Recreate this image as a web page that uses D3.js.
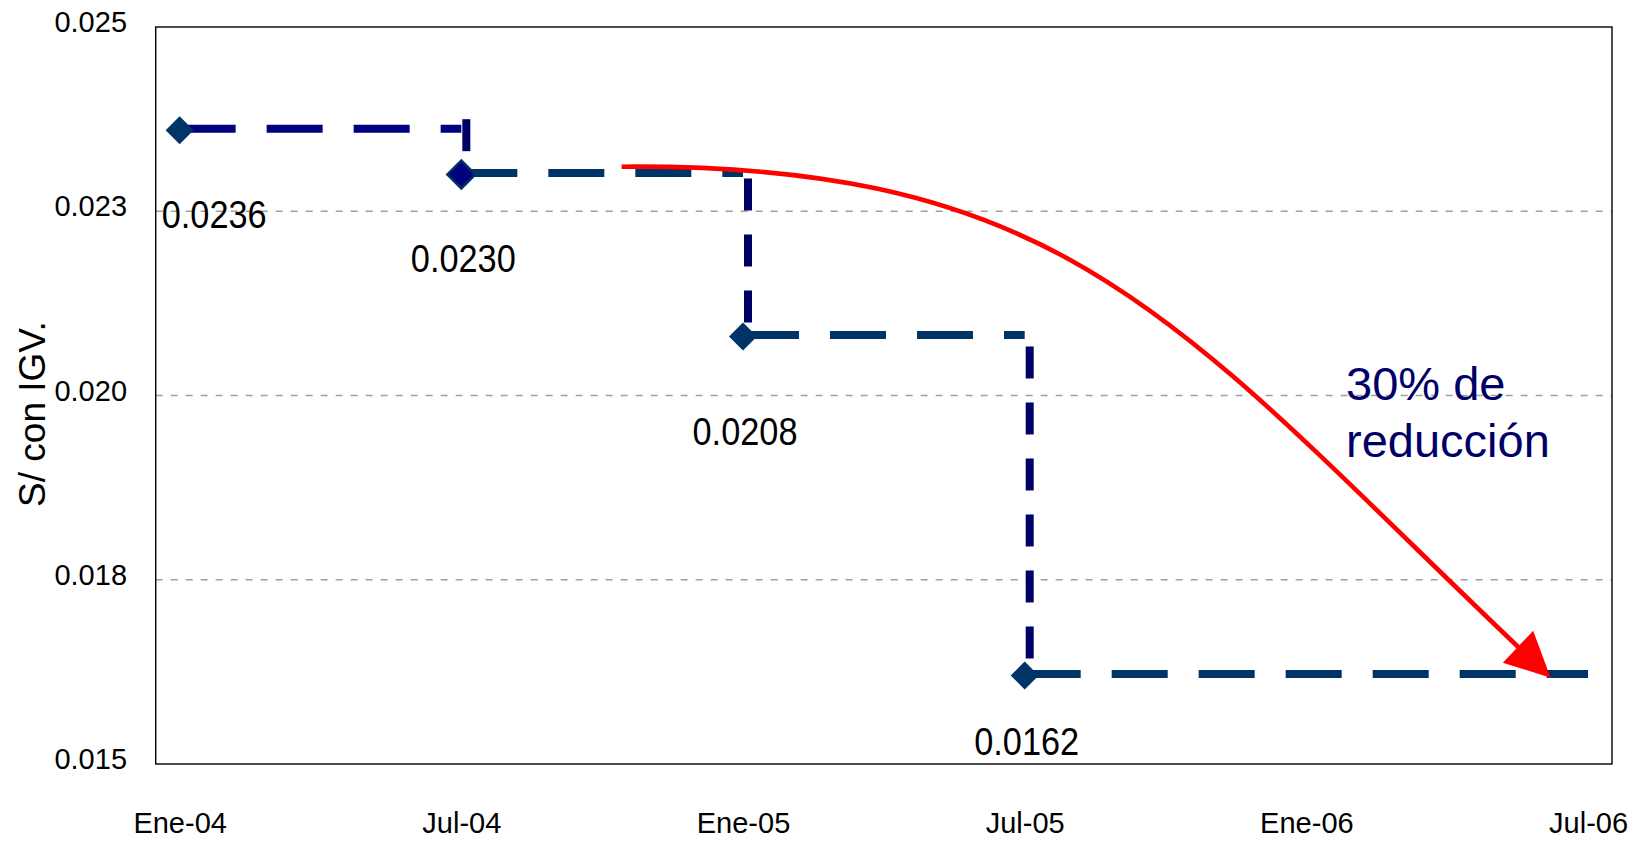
<!DOCTYPE html>
<html>
<head>
<meta charset="utf-8">
<script src="https://cdn.jsdelivr.net/npm/d3@7"></script>
<style>
  html, body { margin: 0; padding: 0; background: #fff; }
  svg { display: block; }
</style>
</head>
<body>
<svg id="chart" width="1643" height="841"></svg>
<script>
// ---------------- data ----------------
const categories = ["Ene-04", "Jul-04", "Ene-05", "Jul-05", "Ene-06", "Jul-06"];
const tariffDates = ["Ene-04", "Jul-04", "Ene-05", "Jul-05"];
const tariffValues = [0.0236, 0.0230, 0.0208, 0.0162];
const tariffLabels = ["0.0236", "0.0230", "0.0208", "0.0162"];
const seriesEnd = "Jul-06";
const yTicks = [0.015, 0.0175, 0.020, 0.0225, 0.025];
const yTickLabels = ["0.015", "0.018", "0.020", "0.023", "0.025"];
const gridValues = [0.0175, 0.020, 0.0225];
const yTitle = "S/ con IGV.";
const noteLines = ["30% de", "reducción"];
// red trend arrow (Bezier): [position in category steps from Ene-04, value]
const arrowStart = [1.569, 0.023104];
const arrowCtrl1 = [3.168, 0.023155];
const arrowCtrl2 = [3.551, 0.020957];
const arrowTip = [4.867, 0.01617];

// ---------------- layout ----------------
const plot = { left: 155.7, right: 1612, top: 27, bottom: 764 };
const svg = d3.select("#chart");
const FONT = "'Liberation Sans', Arial, sans-serif";

const x = d3.scalePoint().domain(categories).range([plot.left, plot.right]).padding(0.085);
const y = d3.scaleLinear().domain([0.015, 0.025]).range([plot.bottom, plot.top]);
const xi = v => x(categories[0]) + v * x.step();
const P = p => [xi(p[0]), y(p[1])];

// gridlines
svg.append("g").selectAll("line").data(gridValues).join("line")
  .attr("x1", plot.left).attr("x2", plot.right)
  .attr("y1", d => y(d)).attr("y2", d => y(d))
  .attr("stroke", "#a0a0a0").attr("stroke-width", 1.3)
  .attr("stroke-dasharray", "7,8");

// plot border
svg.append("rect")
  .attr("x", plot.left).attr("y", plot.top)
  .attr("width", plot.right - plot.left).attr("height", plot.bottom - plot.top)
  .attr("fill", "none").attr("stroke", "#000").attr("stroke-width", 1.4);

// y axis
const yAxis = svg.append("g").attr("transform", `translate(${plot.left},0)`)
  .call(d3.axisLeft(y).tickValues(yTicks).tickFormat((d, i) => yTickLabels[i]).tickSize(0).tickPadding(28.7));
yAxis.select(".domain").remove();
yAxis.selectAll("text").attr("font-family", FONT).attr("font-size", 29).attr("fill", "#000").attr("dy", "0.16em");

// x axis
const xAxis = svg.append("g").attr("transform", `translate(0,${plot.bottom})`)
  .call(d3.axisBottom(x).tickSize(0));
xAxis.select(".domain").remove();
xAxis.selectAll("text").attr("font-family", FONT).attr("font-size", 29).attr("fill", "#000")
  .attr("y", 69).attr("dy", 0);

// y title
svg.append("text")
  .attr("transform", `translate(45,414) rotate(-90)`)
  .attr("text-anchor", "middle")
  .attr("font-family", FONT).attr("font-size", 37).attr("fill", "#000")
  .text(yTitle);

// horizontal step segments
const hSegs = tariffDates.map((d, i) => ({
  x1: x(d), x2: x(i < tariffDates.length - 1 ? tariffDates[i + 1] : seriesEnd),
  v: tariffValues[i], i
}));
svg.append("g").selectAll("line").data(hSegs).join("line")
  .attr("x1", d => d.x1).attr("x2", d => d.x2)
  .attr("y1", d => y(d.v) - 1.5).attr("y2", d => y(d.v) - 1.5)
  .attr("stroke", d => d.i === 0 ? "#000080" : "#003366")
  .attr("stroke-width", 8).attr("stroke-dasharray", "56,31");

// vertical drops
const vStart = [-11, 4, 10];
const vSegs = tariffDates.slice(1).map((d, k) => ({
  x: x(d) + 5, y1: y(tariffValues[k]) + vStart[k], y2: y(tariffValues[k + 1])
}));
svg.append("g").selectAll("line").data(vSegs).join("line")
  .attr("x1", d => d.x).attr("x2", d => d.x)
  .attr("y1", d => d.y1).attr("y2", d => d.y2)
  .attr("stroke", "#000066").attr("stroke-width", 8).attr("stroke-dasharray", "32,24");

// diamonds
svg.append("g").selectAll("path").data(tariffValues).join("path")
  .attr("d", d3.symbol().type(d3.symbolSquare).size(392))
  .attr("transform", (d, i) => `translate(${x(tariffDates[i])},${y(d)}) rotate(45)`)
  .attr("fill", (d, i) => i === 1 ? "#000080" : "#003366")
  .attr("stroke", "#003366").attr("stroke-width", (d, i) => i === 1 ? 2.5 : 0);

// data labels
const labelNudge = [0, 0, 10, 0];
const labelWidth = 105;
svg.append("g").selectAll("text").data(tariffValues).join("text")
  .attr("font-family", FONT).attr("font-size", 39).attr("fill", "#000")
  .attr("textLength", labelWidth).attr("lengthAdjust", "spacingAndGlyphs")
  .attr("x", (d, i) => Math.max(x(tariffDates[i]) + 2 - labelWidth / 2, plot.left + 6))
  .attr("y", (d, i) => Math.min(y(d) + 98 + labelNudge[i], plot.bottom - 9))
  .text((d, i) => tariffLabels[i]);

// red arrow
const p0 = P(arrowStart), c1 = P(arrowCtrl1), c2 = P(arrowCtrl2), tip = P(arrowTip);
const ang = Math.atan2(tip[1] - c2[1], tip[0] - c2[0]);
const headLen = 45, headHalf = 22;
const baseMid = [tip[0] - headLen * Math.cos(ang), tip[1] - headLen * Math.sin(ang)];
const endPt = [baseMid[0] + 3 * Math.cos(ang), baseMid[1] + 3 * Math.sin(ang)];
const curve = d3.path();
curve.moveTo(p0[0], p0[1]);
curve.bezierCurveTo(c1[0], c1[1], c2[0], c2[1], endPt[0], endPt[1]);
svg.append("path")
  .attr("d", curve.toString())
  .attr("fill", "none").attr("stroke", "#ff0000").attr("stroke-width", 4.6);
const nx = -Math.sin(ang), ny = Math.cos(ang);
svg.append("path")
  .attr("d", d3.line()([
    tip,
    [baseMid[0] + headHalf * nx, baseMid[1] + headHalf * ny],
    [baseMid[0] - headHalf * nx, baseMid[1] - headHalf * ny]
  ]) + "Z")
  .attr("fill", "#ff0000");

// annotation text
const note = svg.append("text")
  .attr("font-family", FONT).attr("font-size", 47).attr("fill", "#000066");
note.selectAll("tspan").data(noteLines).join("tspan")
  .attr("x", 1346).attr("y", (d, i) => 400 + i * 57)
  .text(d => d);
</script>
</body>
</html>
